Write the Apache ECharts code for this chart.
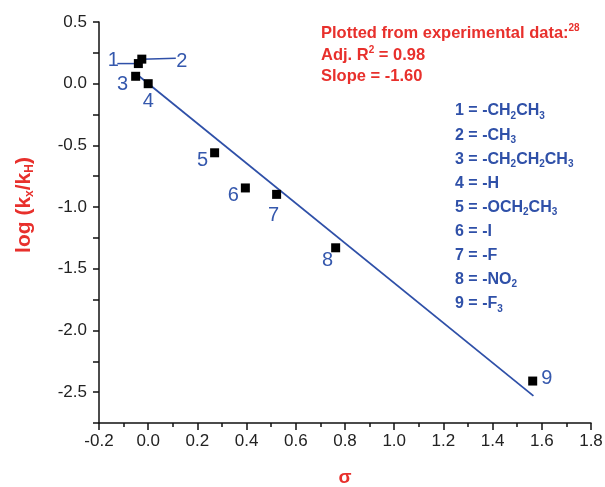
<!DOCTYPE html>
<html>
<head>
<meta charset="utf-8">
<script src="https://cdn.jsdelivr.net/npm/echarts@6/dist/echarts.min.js"></script>
<style>
  html, body { margin: 0; padding: 0; background: #fff; }
  #main { width: 605px; height: 487px; }
</style>
</head>
<body>
<div id="main"></div>
<script>
// sigma values and log(kx/kH)
const sigma = [-0.040, -0.026, -0.051, 0.0, 0.27, 0.395, 0.522, 0.762, 1.563];
const logK = [0.163, 0.199, 0.06, 0.0, -0.56, -0.845, -0.897, -1.33, -2.41];
const pointLabels = ['1', '2', '3', '4', '5', '6', '7', '8', '9'];
const substituents = [
  '-CH{s|2}CH{s|3}', '-CH{s|3}', '-CH{s|2}CH{s|2}CH{s|3}', '-H', '-OCH{s|2}CH{s|3}',
  '-I', '-F', '-NO{s|2}', '-F{s|3}'
];
// fitted line ends
const fitX = [-0.043, 1.566];
const fitY = [0.07, -2.53];

// label offsets (px) and leader line ends (px) - styling only
const labelOffsets = [[-25, -3], [40, 2], [-13, 8], [0, 18], [-12, 8], [-12, 8], [-3, 21], [-8, 13], [14, -3]];
const leaders = [[0, -21, 0], [1, 34, -1]];

const RED = '#e8302c';
const BLUE = '#2f50a8';
const FONT = 'Liberation Sans, Arial, sans-serif';

const chart = echarts.init(document.getElementById('main'));

function richLine(x, y, text, color, size) {
  return {
    type: 'text', x: x, y: y,
    style: {
      text: text,
      verticalAlign: 'middle',
      rich: {
        m: { fill: color, fontSize: size, fontWeight: 'bold', fontFamily: FONT, lineHeight: 20 },
        s: { fill: color, fontSize: 10, fontWeight: 'bold', fontFamily: FONT, lineHeight: 10, verticalAlign: 'bottom' },
        u: { fill: color, fontSize: 10, fontWeight: 'bold', fontFamily: FONT, lineHeight: 10, verticalAlign: 'top' }
      }
    }
  };
}

const wrap = (s) => '{m|' + s.replace(/\{s\|(\w)\}/g, '}{s|$1}{m|') + '}';

const graphics = [
  richLine(321, 33, '{m|Plotted from experimental data:}{u|28}', RED, 16.5),
  richLine(321, 55, '{m|Adj. R}{u|2}{m| = 0.98}', RED, 16.5),
  richLine(321, 76, '{m|Slope = -1.60}', RED, 16.5)
];
substituents.forEach((s, i) => {
  graphics.push(richLine(455, 111 + i * 24.1, wrap(pointLabels[i] + ' = ' + s), BLUE, 16));
});

// y axis title, rotated
const yTitle = richLine(0, 0, '{m|log (k}{s|x}{m|/k}{s|H}{m|)}', RED, 21);
yTitle.x = 24; yTitle.y = 205; yTitle.rotation = Math.PI / 2;
yTitle.style.align = 'center';
yTitle.style.rich.m.lineHeight = 24;
yTitle.style.rich.s.fontSize = 12;
yTitle.style.rich.s.lineHeight = 12;
graphics.push(yTitle);

const option = {
  animation: false,
  grid: { left: 99, right: 14, top: 22, bottom: 64, outerBoundsMode: 'none' },
  xAxis: {
    type: 'value',
    min: -0.2, max: 1.8, interval: 0.2,
    name: 'σ',
    nameLocation: 'middle',
    nameGap: 45,
    nameTextStyle: { color: RED, fontSize: 19, fontWeight: 'bold', fontFamily: FONT },
    axisLine: { onZero: false, lineStyle: { color: '#111', width: 1.5 } },
    axisTick: { length: 7, lineStyle: { color: '#111', width: 1.5 } },
    minorTick: { show: true, splitNumber: 2, length: 4, lineStyle: { color: '#111', width: 1.5 } },
    splitLine: { show: false },
    axisLabel: {
      color: '#222', fontSize: 17, fontFamily: FONT, margin: 10,
      formatter: (v) => (Math.abs(v) < 1e-9 ? 0 : v).toFixed(1)
    }
  },
  yAxis: {
    type: 'value',
    min: -2.75, max: 0.5, interval: 0.25,
    axisLine: { onZero: false, lineStyle: { color: '#111', width: 1.5 } },
    axisTick: { length: 6, lineStyle: { color: '#111', width: 1.5 } },
    splitLine: { show: false },
    axisLabel: {
      color: '#222', fontSize: 17, fontFamily: FONT, margin: 12,
      formatter: (v) => Math.abs(v * 2 - Math.round(v * 2)) < 1e-6 ? (Math.abs(v) < 1e-9 ? 0 : v).toFixed(1) : ''
    }
  },
  series: [
    {
      type: 'line',
      data: fitX.map((x, i) => [x, fitY[i]]),
      symbol: 'none',
      lineStyle: { color: BLUE, width: 1.8 },
      z: 2
    },
    {
      type: 'custom',
      data: leaders.map((l) => [sigma[l[0]], logK[l[0]], l[1], l[2]]),
      renderItem: (params, api) => {
        const p = api.coord([api.value(0), api.value(1)]);
        return {
          type: 'line',
          shape: { x1: p[0], y1: p[1], x2: p[0] + api.value(2), y2: p[1] + api.value(3) },
          style: { stroke: BLUE, lineWidth: 1.5 }
        };
      },
      z: 2
    },
    {
      type: 'scatter',
      symbol: 'rect',
      symbolSize: 9,
      itemStyle: { color: '#000', opacity: 1 },
      data: sigma.map((x, i) => ({
        value: [x, logK[i]],
        label: {
          show: true, position: 'inside', offset: labelOffsets[i],
          formatter: pointLabels[i], color: '#3558ad', fontSize: 20, fontFamily: FONT
        }
      })),
      z: 3
    }
  ],
  graphic: graphics
};

chart.setOption(option);
</script>
</body>
</html>
